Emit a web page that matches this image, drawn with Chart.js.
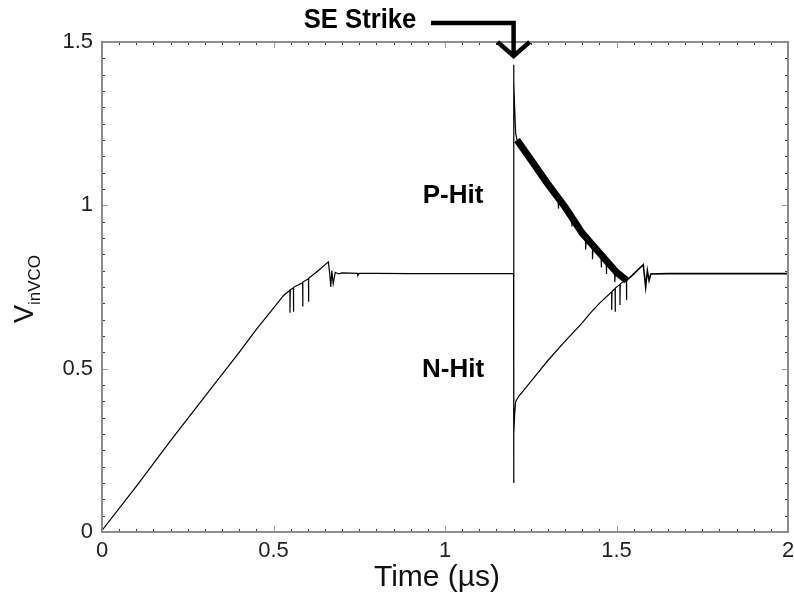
<!DOCTYPE html>
<html><head><meta charset="utf-8">
<script src="https://cdn.jsdelivr.net/npm/chart.js@4"></script>
<style>html,body{margin:0;padding:0;background:#fff}canvas{display:block}</style>
</head><body>
<canvas id="c" width="794" height="606"></canvas>
<script>
// ---- data (time in µs, V_inVCO in V) ----
const preTime = [0, 0.1, 0.2, 0.3, 0.4, 0.45, 0.5, 0.53, 0.548, 0.548, 0.549, 0.558, 0.558, 0.559, 0.585, 0.585, 0.586, 0.602, 0.602, 0.603, 0.63, 0.66, 0.664, 0.667, 0.67, 0.674, 0.68, 0.69, 0.7, 0.745, 0.746, 0.75, 0.8, 0.9, 1.0, 1.1, 1.2];
const preV    = [0.005, 0.14, 0.28, 0.415, 0.55, 0.62, 0.685, 0.725, 0.74, 0.671, 0.742, 0.747, 0.674, 0.749, 0.763, 0.69, 0.765, 0.775, 0.705, 0.777, 0.8, 0.827, 0.79, 0.75, 0.8, 0.76, 0.795, 0.79, 0.793, 0.792, 0.785, 0.792, 0.792, 0.791, 0.791, 0.791, 0.791];

const pHitTime = [1.2, 1.2, 1.201, 1.203, 1.206, 1.21];
const pHitV    = [0.791, 1.43, 1.38, 1.3, 1.22, 1.2];
const pBandTime = [1.21, 1.25, 1.3, 1.35, 1.4, 1.45, 1.5, 1.53];
const pBandV    = [1.2, 1.14, 1.065, 0.995, 0.915, 0.855, 0.795, 0.77];
const pSpikeTime = [1.33, 1.33, 1.332, 1.37, 1.37, 1.372, 1.41, 1.41, 1.412, 1.43, 1.43, 1.432, 1.455, 1.455, 1.457, 1.47, 1.47, 1.472, 1.495, 1.495, 1.497];
const pSpikeV    = [1.01, 0.99, 1.008, 0.96, 0.935, 0.958, 0.9, 0.865, 0.898, 0.875, 0.835, 0.873, 0.845, 0.81, 0.843, 0.83, 0.79, 0.828, 0.8, 0.765, 0.798];
const postTime = [1.53, 1.545, 1.56, 1.578, 1.582, 1.585, 1.59, 1.595, 1.6, 1.65, 1.7, 1.8, 1.9, 2.0];
const postV    = [0.77, 0.785, 0.8, 0.818, 0.78, 0.75, 0.8, 0.77, 0.79, 0.791, 0.791, 0.791, 0.791, 0.791];

const nHitTime = [1.2, 1.2, 1.201, 1.203, 1.206, 1.215, 1.25, 1.3, 1.345, 1.4, 1.423, 1.45, 1.486, 1.486, 1.487, 1.496, 1.496, 1.497, 1.51, 1.51, 1.511, 1.52, 1.529, 1.529, 1.53];
const nHitV    = [0.791, 0.15, 0.3, 0.36, 0.4, 0.415, 0.46, 0.525, 0.578, 0.64, 0.669, 0.7, 0.735, 0.68, 0.737, 0.745, 0.674, 0.747, 0.758, 0.695, 0.76, 0.766, 0.77, 0.71, 0.772];

const xTicks = [0, 0.5, 1, 1.5, 2];
const yTicks = [0, 0.5, 1, 1.5];
const labels = {xTitle: 'Time (µs)', yMain: 'V', ySub: 'inVCO', strike: 'SE Strike', pHit: 'P-Hit', nHit: 'N-Hit'};

const pts = (t, v) => t.map((x, i) => ({x: x, y: v[i]}));
const FONT = '"Liberation Sans", Arial, Helvetica, sans-serif';

const framePlugin = {
  id: 'frame',
  afterDraw(chart) {
    const {ctx, chartArea: a, scales} = chart;
    const xs = scales.x, ys = scales.y;
    ctx.save();
    for (let i = 0; i <= 40; i++) {
      const px = Math.round(xs.getPixelForValue(i * 0.05)) + 0.5;
      const major = i % 10 === 0;
      ctx.strokeStyle = major ? '#9a9a9a' : '#333';
      ctx.lineWidth = 1;
      const L = major ? 6 : 3;
      ctx.beginPath();
      ctx.moveTo(px, a.bottom); ctx.lineTo(px, a.bottom - L);
      ctx.moveTo(px, a.top); ctx.lineTo(px, a.top + L);
      ctx.stroke();
    }
    for (let i = 0; i <= 30; i++) {
      const py = Math.round(ys.getPixelForValue(i * 0.05)) + 0.5;
      const major = i % 10 === 0;
      ctx.strokeStyle = major ? '#9a9a9a' : '#333';
      ctx.lineWidth = 1;
      const L = major ? 6 : 3;
      ctx.beginPath();
      ctx.moveTo(a.left, py); ctx.lineTo(a.left + L, py);
      ctx.moveTo(a.right, py); ctx.lineTo(a.right - L, py);
      ctx.stroke();
    }
    ctx.strokeStyle = '#8c8c8c';
    ctx.lineWidth = 2;
    ctx.strokeRect(a.left, a.top, a.right - a.left, a.bottom - a.top);

    // x-axis title
    ctx.fillStyle = '#111';
    ctx.font = '30px ' + FONT;
    ctx.textAlign = 'center';
    ctx.textBaseline = 'middle';
    ctx.fillText(labels.xTitle, 437, 578);

    // y-axis title with subscript
    ctx.translate(33, (a.top + a.bottom) / 2 + 2);
    ctx.rotate(-Math.PI / 2);
    ctx.textBaseline = 'alphabetic';
    ctx.font = '27px ' + FONT;
    const wV = ctx.measureText(labels.yMain).width;
    ctx.font = '17px ' + FONT;
    const wS = ctx.measureText(labels.ySub).width;
    const start = -(wV + wS) / 2;
    ctx.font = '27px ' + FONT;
    ctx.textAlign = 'left';
    ctx.fillText(labels.yMain, start, 0);
    ctx.font = '17px ' + FONT;
    ctx.fillText(labels.ySub, start + wV, 7);
    ctx.restore();

    // annotations
    ctx.save();
    ctx.fillStyle = '#000';
    ctx.textAlign = 'center';
    ctx.textBaseline = 'middle';
    const sx = xs.getPixelForValue(1.2);
    ctx.font = 'bold 27px ' + FONT;
    ctx.save();
    ctx.translate(360, 21);
    ctx.scale(0.95, 1);
    ctx.fillText(labels.strike, 0, 0);
    ctx.restore();
    ctx.font = 'bold 26px ' + FONT;
    ctx.fillText(labels.pHit, 453, ys.getPixelForValue(1.03));
    ctx.fillText(labels.nHit, 453, ys.getPixelForValue(0.495));
    // arrow
    ctx.strokeStyle = '#000';
    ctx.lineWidth = 4.5;
    ctx.lineJoin = 'miter';
    ctx.beginPath();
    ctx.moveTo(431, 23);
    ctx.lineTo(sx, 23);
    ctx.lineTo(sx, 54);
    ctx.stroke();
    ctx.beginPath();
    ctx.moveTo(sx - 16, 42);
    ctx.lineTo(sx, 56);
    ctx.lineTo(sx + 16, 42);
    ctx.stroke();
    ctx.restore();
  }
};

const lineStyle = {borderColor: '#000', borderWidth: 1.2, pointRadius: 0, fill: false, tension: 0};

new Chart(document.getElementById('c'), {
  type: 'line',
  data: {
    datasets: [
      Object.assign({label: 'pre', data: pts(preTime, preV)}, lineStyle),
      Object.assign({label: 'P-Hit', data: pts(pHitTime, pHitV)}, lineStyle),
      Object.assign({label: 'P-Hit band', data: pts(pBandTime, pBandV)}, lineStyle, {borderWidth: 7}),
      Object.assign({label: 'P-Hit spikes', data: pts(pSpikeTime, pSpikeV)}, lineStyle),
      Object.assign({label: 'post', data: pts(postTime, postV)}, lineStyle, {borderWidth: 1.6}),
      Object.assign({label: 'N-Hit', data: pts(nHitTime, nHitV)}, lineStyle)
    ]
  },
  options: {
    responsive: false,
    devicePixelRatio: 1,
    animation: false,
    layout: {padding: {top: 42, right: 6, left: 0, bottom: 0}},
    plugins: {legend: {display: false}, tooltip: {enabled: false}},
    scales: {
      x: {
        type: 'linear', min: 0, max: 2,
        afterBuildTicks: s => { s.ticks = xTicks.map(v => ({value: v})); },
        ticks: {color: '#222', font: {family: FONT, size: 22}, padding: 6, maxRotation: 0,
                callback: v => String(v)},
        grid: {display: false, drawTicks: false},
        border: {display: false},
        title: {display: false},
        afterFit: s => { s.height = 74; s.paddingLeft = 0; s.paddingRight = 0; }
      },
      y: {
        type: 'linear', min: 0, max: 1.5,
        afterBuildTicks: s => { s.ticks = yTicks.map(v => ({value: v})); },
        ticks: {color: '#222', font: {family: FONT, size: 22}, padding: 9,
                callback: v => String(v)},
        grid: {display: false, drawTicks: false},
        border: {display: false},
        afterFit: s => { s.width = 102; s.paddingTop = 0; s.paddingBottom = 0; }
      }
    }
  },
  plugins: [framePlugin]
});
</script>
</body></html>
